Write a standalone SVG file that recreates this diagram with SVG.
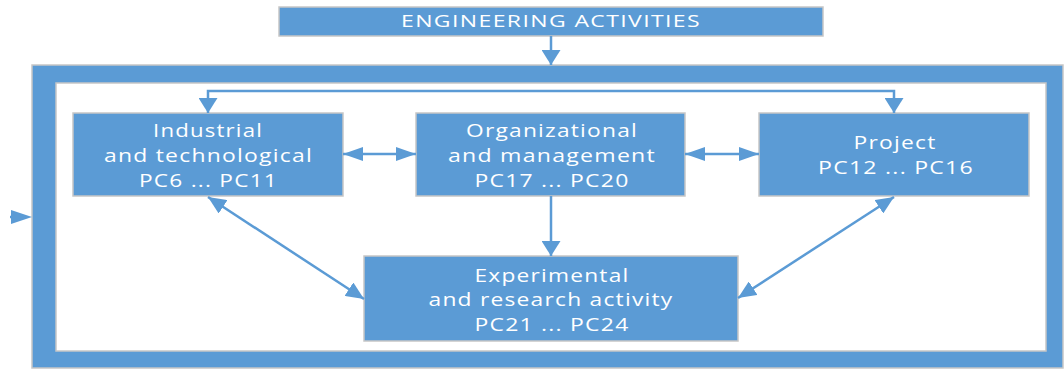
<svg xmlns="http://www.w3.org/2000/svg" width="1064" height="371" viewBox="0 0 1064 371">
<style>
.box{fill:#5B9BD5;stroke:#C6C6C6;stroke-width:1.5}
.t{font-family:"Open Sans","Liberation Sans",sans-serif;font-size:18.5px;letter-spacing:1px;fill:#FFFFFF;text-anchor:middle}
.tt{font-family:"Open Sans","Liberation Sans",sans-serif;font-size:16.5px;letter-spacing:1px;fill:#FFFFFF;text-anchor:middle}
.ln{stroke:#5B9BD5;stroke-width:2.5;fill:none}
.ah{fill:#5B9BD5}
</style>
<defs>
<marker id="aH" markerUnits="userSpaceOnUse" markerWidth="20" markerHeight="14" refX="20" refY="7" orient="auto-start-reverse" viewBox="0 0 20 14"><path d="M0,0 L20,7 L0,14 Z" fill="#5B9BD5"/></marker>
<marker id="aV" markerUnits="userSpaceOnUse" markerWidth="15" markerHeight="19" refX="15" refY="9.5" orient="auto-start-reverse" viewBox="0 0 15 19"><path d="M0,0 L15,9.5 L0,19 Z" fill="#5B9BD5"/></marker>
<marker id="aD" markerUnits="userSpaceOnUse" markerWidth="18" markerHeight="16" refX="18" refY="8" orient="auto-start-reverse" viewBox="0 0 18 16"><path d="M0,0 L18,8 L0,16 Z" fill="#5B9BD5"/></marker>
</defs>
<g id="top">
<rect class="box" x="279" y="7" width="544" height="29"/>
<text class="tt" x="551" y="27" textLength="300" lengthAdjust="spacingAndGlyphs">ENGINEERING ACTIVITIES</text>
</g>
<g id="frame">
<rect x="32" y="65" width="1031" height="303" fill="#5B9BD5" stroke="#C6C6C6" stroke-width="1.5"/>
<rect x="56" y="83" width="990" height="268" fill="#FFFFFF" stroke="#C6C6C6" stroke-width="1.5"/>
</g>
<g id="industrial">
<rect class="box" x="73" y="113" width="270" height="83"/>
<text class="t" x="208" y="137" textLength="110" lengthAdjust="spacingAndGlyphs">Industrial</text>
<text class="t" x="208.5" y="162" textLength="209" lengthAdjust="spacingAndGlyphs">and technological</text>
<text class="t" x="208.5" y="187" textLength="139" lengthAdjust="spacingAndGlyphs">PC6 ... PC11</text>
</g>
<g id="organizational">
<rect class="box" x="416" y="113" width="269" height="83"/>
<text class="t" x="552" y="137" textLength="172" lengthAdjust="spacingAndGlyphs">Organizational</text>
<text class="t" x="552" y="162" textLength="208" lengthAdjust="spacingAndGlyphs">and management</text>
<text class="t" x="552" y="187" textLength="155" lengthAdjust="spacingAndGlyphs">PC17 ... PC20</text>
</g>
<g id="project">
<rect class="box" x="759" y="113" width="270" height="83"/>
<text class="t" x="895" y="149" textLength="83" lengthAdjust="spacingAndGlyphs">Project</text>
<text class="t" x="896" y="174" textLength="156" lengthAdjust="spacingAndGlyphs">PC12 ... PC16</text>
</g>
<g id="experimental">
<rect class="box" x="364" y="256" width="374" height="85"/>
<text class="t" x="552" y="282" textLength="155" lengthAdjust="spacingAndGlyphs">Experimental</text>
<text class="t" x="551" y="306" textLength="245" lengthAdjust="spacingAndGlyphs">and research activity</text>
<text class="t" x="552" y="331" textLength="155" lengthAdjust="spacingAndGlyphs">PC21 ... PC24</text>
</g>
<g id="connectors">
<line class="ln" x1="551" y1="36" x2="551" y2="65" stroke-width="3" marker-end="url(#aV)"/>
<polyline class="ln" points="208,113 208,91 894,91 894,113" marker-start="url(#aV)" marker-end="url(#aV)"/>
<line class="ln" x1="10" y1="217" x2="20" y2="217"/>
<polygon class="ah" points="11,210 32,217 11,224"/>
<line class="ln" x1="343" y1="154" x2="416" y2="154" marker-start="url(#aH)" marker-end="url(#aH)"/>
<line class="ln" x1="685" y1="154" x2="759" y2="154" marker-start="url(#aH)" marker-end="url(#aH)"/>
<line class="ln" x1="551" y1="196" x2="551" y2="256" marker-end="url(#aV)"/>
<line class="ln" x1="208" y1="197" x2="364" y2="299" marker-start="url(#aD)" marker-end="url(#aD)"/>
<line class="ln" x1="894" y1="197" x2="738" y2="298" marker-start="url(#aD)" marker-end="url(#aD)"/>
</g>
</svg>
